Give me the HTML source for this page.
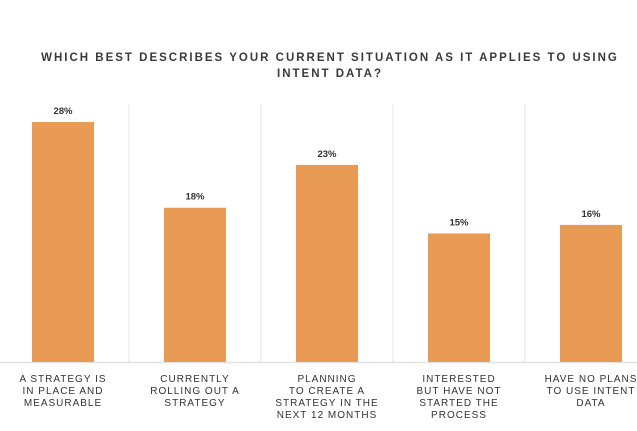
<!DOCTYPE html>
<html><head><meta charset="utf-8"><style>
body{margin:0;background:#fff;width:637px;height:426px;overflow:hidden;font-family:"Liberation Sans",sans-serif}
</style></head><body>
<svg id="chart" width="637" height="426" xmlns="http://www.w3.org/2000/svg">
<text x="330" y="61" text-anchor="middle" font-size="11.5" font-weight="bold" fill="#3a3a3a" letter-spacing="2">WHICH BEST DESCRIBES YOUR CURRENT SITUATION AS IT APPLIES TO USING</text>
<text x="330" y="77" text-anchor="middle" font-size="11.5" font-weight="bold" fill="#3a3a3a" letter-spacing="2">INTENT DATA?</text>
<g id="grid"></g><g id="bars"></g><g id="labels"></g>
</svg>
<script>
const categories=[["A STRATEGY IS","IN PLACE AND","MEASURABLE"],["CURRENTLY","ROLLING OUT A","STRATEGY"],["PLANNING","TO CREATE A","STRATEGY IN THE","NEXT 12 MONTHS"],["INTERESTED","BUT HAVE NOT","STARTED THE","PROCESS"],["HAVE NO PLANS","TO USE INTENT","DATA"]];
const values=[28,18,23,15,16];
const valueLabels=["28%","18%","23%","15%","16%"];
const NS="http://www.w3.org/2000/svg";
const base=362, pxPer=8.57, slot=132, x0=-3, bw=62;
const y=v=>base-v*pxPer;
const xc=i=>x0+slot*i+slot/2;
function mk(t,a,p){const e=document.createElementNS(NS,t);for(const k in a)e.setAttribute(k,a[k]);p.appendChild(e);return e;}
const grid=document.getElementById('grid'),bars=document.getElementById('bars'),labels=document.getElementById('labels');
const bl=mk('line',{x1:0,x2:637,y1:base+0.5,y2:base+0.5,stroke:'#e2e2e2','stroke-width':1.5},grid);


for(let i=1;i<values.length;i++){
 const l=mk('line',{x1:x0+slot*i,x2:x0+slot*i,y1:104,y2:base,stroke:'#e6e6e6','stroke-width':1},grid);
 
 
}
values.forEach((v,i)=>{
 const r=mk('rect',{x:xc(i)-bw/2,y:y(v),width:bw,height:base-y(v),fill:'#e99b56'},bars);
 
 
 const t=mk('text',{x:xc(i),y:y(v)-8,'text-anchor':'middle','font-size':9.5,'font-weight':'bold',fill:'#333'},labels);
 t.textContent=valueLabels[i];
 
 
 categories[i].forEach((s,j)=>{
  const c=mk('text',{x:xc(i),y:382+j*12,'text-anchor':'middle','font-size':10,fill:'#333','letter-spacing':1},labels);
  c.textContent=s;
  
  
 });
});
</script>
</body></html>
